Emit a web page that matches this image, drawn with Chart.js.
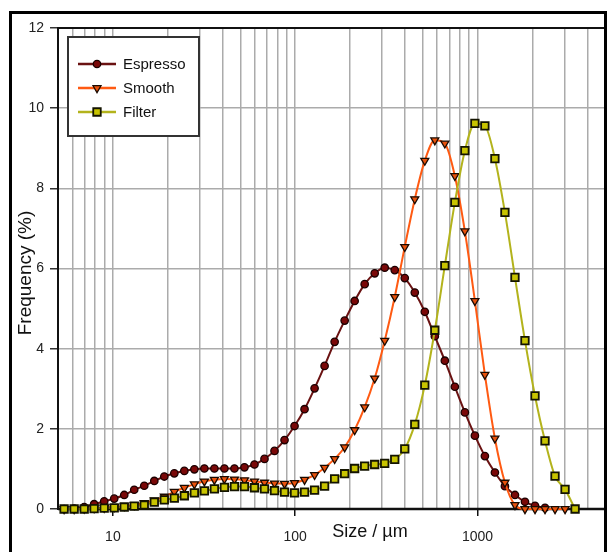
<!DOCTYPE html>
<html><head><meta charset="utf-8">
<script src="https://cdn.jsdelivr.net/npm/chart.js@4.4.1/dist/chart.umd.min.js"></script>
<style>html,body{margin:0;padding:0;background:#fff;} canvas{display:block;}</style>
</head><body>
<canvas id="c" width="608" height="552"></canvas>
<script>
// Particle size classes (µm), log-spaced
const sizes = [5.40, 6.13, 6.96, 7.89, 8.96, 10.17, 11.54, 13.09, 14.86, 16.87,
  19.14, 21.72, 24.65, 27.98, 31.75, 36.03, 40.89, 46.41, 52.67, 59.77,
  67.83, 76.98, 87.37, 99.15, 112.5, 127.7, 144.9, 164.5, 186.7, 211.8,
  240.4, 272.8, 309.6, 351.4, 398.8, 452.6, 513.6, 582.9, 661.5, 750.8,
  852.0, 967.0, 1097, 1245, 1413, 1604, 1820, 2066, 2344, 2660,
  3019, 3427];

const espresso = [0.00, 0.01, 0.05, 0.12, 0.19, 0.26, 0.35, 0.48, 0.58, 0.70,
  0.81, 0.89, 0.95, 0.99, 1.01, 1.01, 1.01, 1.01, 1.04, 1.11,
  1.25, 1.45, 1.72, 2.07, 2.49, 3.01, 3.57, 4.17, 4.70, 5.19,
  5.61, 5.88, 6.02, 5.96, 5.76, 5.40, 4.92, 4.31, 3.70, 3.05,
  2.41, 1.83, 1.32, 0.91, 0.57, 0.35, 0.18, 0.08, 0.03];

const smooth = [0.00, 0.00, 0.01, 0.02, 0.03, 0.05, 0.07, 0.10, 0.15, 0.22,
  0.31, 0.43, 0.53, 0.62, 0.69, 0.73, 0.75, 0.74, 0.72, 0.69,
  0.66, 0.64, 0.63, 0.65, 0.73, 0.85, 1.03, 1.25, 1.54, 1.97,
  2.54, 3.26, 4.20, 5.29, 6.54, 7.73, 8.69, 9.20, 9.12, 8.31,
  6.93, 5.19, 3.35, 1.76, 0.66, 0.10, 0.00, 0.00, 0.00, 0.00,
  0.00];

const filter = [0.00, 0.00, 0.00, 0.01, 0.02, 0.03, 0.05, 0.07, 0.10, 0.17,
  0.23, 0.27, 0.33, 0.40, 0.45, 0.50, 0.54, 0.56, 0.56, 0.53,
  0.50, 0.46, 0.42, 0.40, 0.42, 0.47, 0.57, 0.75, 0.88, 1.01,
  1.07, 1.11, 1.14, 1.24, 1.50, 2.11, 3.09, 4.46, 6.07, 7.65,
  8.94, 9.62, 9.56, 8.74, 7.40, 5.78, 4.20, 2.82, 1.70, 0.82,
  0.49, 0.00];

const seriesNames = ['Espresso', 'Smooth', 'Filter'];
const xGridTicks = [5,6,7,8,9,10,20,30,40,50,60,70,80,90,100,200,300,400,500,600,700,800,900,1000,2000,3000,4000,5000];
const xTickLabels = [10, 100, 1000];
const yMin = 0, yMax = 12, yStep = 2;
const xTitle = 'Size / µm';
const yTitle = 'Frequency (%)';

const FONT = "'Liberation Sans', Arial, Helvetica, sans-serif";
const GRID = '#ababab';

const styles = [
  {line:'#6a1212', fill:'#7a0808', border:'#1a0000', shape:'circle', r:3.7, bw:1.3, order:3},
  {line:'#ff5a12', fill:'#e8520c', border:'#1a0a00', shape:'triangle', r:4.6, bw:1.3, order:2},
  {line:'#b3b31c', fill:'#c8c400', border:'#141400', shape:'rect', r:5.3, bw:1.8, order:1}
];
const seriesValues = [espresso, smooth, filter];

function pts(vals){ return vals.map((v,i)=>({x:sizes[i], y:v})); }

const datasets = seriesValues.map((vals, k) => {
  const s = styles[k];
  return {
    label: seriesNames[k],
    data: pts(vals),
    borderColor: s.line,
    borderWidth: 2,
    backgroundColor: s.fill,
    pointStyle: s.shape,
    pointRotation: s.shape === 'triangle' ? 180 : 0,
    pointRadius: s.r,
    pointBackgroundColor: s.fill,
    pointBorderColor: s.border,
    pointBorderWidth: s.bw,
    cubicInterpolationMode: 'monotone',
    clip: false,
    order: s.order
  };
});

function drawMarker(ctx, shape, x, y, r, fill, stroke, bw){
  ctx.save();
  ctx.beginPath();
  if (shape === 'circle') {
    ctx.arc(x, y, r, 0, Math.PI*2);
  } else if (shape === 'triangle') {
    const h = r * Math.sin(Math.PI/3);
    ctx.moveTo(x, y + r);
    ctx.lineTo(x - h, y - r/2);
    ctx.lineTo(x + h, y - r/2);
    ctx.closePath();
  } else {
    const a = r * Math.SQRT1_2;
    ctx.rect(x - a, y - a, 2*a, 2*a);
  }
  ctx.fillStyle = fill; ctx.fill();
  ctx.lineWidth = bw; ctx.strokeStyle = stroke; ctx.stroke();
  ctx.restore();
}

const framePlugin = {
  id: 'frame',
  beforeDraw(chart){
    const ctx = chart.ctx;
    ctx.save();
    ctx.fillStyle = '#fff';
    ctx.fillRect(0, 0, chart.width, chart.height);
    ctx.restore();
  },
  beforeDatasetsDraw(chart){
    const ctx = chart.ctx, a = chart.chartArea;
    ctx.save();
    ctx.strokeStyle = '#111';
    ctx.lineWidth = 2;
    ctx.strokeRect(a.left, a.top, a.right - a.left, a.bottom - a.top);
    ctx.lineWidth = 2.5;
    ctx.beginPath(); ctx.moveTo(a.left, a.bottom); ctx.lineTo(a.right, a.bottom); ctx.stroke();
    ctx.restore();
  },
  afterDraw(chart){
    const ctx = chart.ctx;
    ctx.save();
    // outer figure frame
    ctx.strokeStyle = '#000';
    ctx.lineWidth = 3;
    ctx.strokeRect(10.5, 12.5, 595, 600);
    // axis titles
    ctx.fillStyle = '#111';
    ctx.font = '18px ' + FONT;
    ctx.textAlign = 'center';
    ctx.textBaseline = 'middle';
    ctx.fillText(xTitle, 370, 532);
    ctx.save();
    ctx.translate(26, 273);
    ctx.rotate(-Math.PI/2);
    ctx.font = '19px ' + FONT;
    ctx.fillText(yTitle, 0, 0);
    ctx.restore();
    // legend
    const bx = 68, by = 37, bw = 131, bh = 99;
    ctx.fillStyle = '#fff';
    ctx.fillRect(bx, by, bw, bh);
    ctx.strokeStyle = '#333';
    ctx.lineWidth = 2;
    ctx.strokeRect(bx, by, bw, bh);
    const rows = [64, 88, 112];
    seriesNames.forEach((name, k) => {
      const s = styles[k], y = rows[k];
      ctx.strokeStyle = s.line;
      ctx.lineWidth = 2.5;
      ctx.beginPath(); ctx.moveTo(78, y); ctx.lineTo(116, y); ctx.stroke();
      drawMarker(ctx, s.shape, 97, y, s.r, s.fill, s.border, s.bw);
      ctx.fillStyle = '#111';
      ctx.font = '15px ' + FONT;
      ctx.textAlign = 'left';
      ctx.textBaseline = 'middle';
      ctx.fillText(name, 123, y + 1);
    });
    ctx.restore();
  }
};

new Chart(document.getElementById('c'), {
  type: 'line',
  data: { datasets },
  plugins: [framePlugin],
  options: {
    responsive: false,
    devicePixelRatio: 1,
    animation: false,
    layout: { autoPadding: false, padding: { top: 28, right: 3, left: 0, bottom: 0 } },
    plugins: { legend: { display: false }, tooltip: { enabled: false }, title: { display: false } },
    scales: {
      x: {
        type: 'logarithmic',
        min: 5, max: 5000,
        afterBuildTicks: s => { s.ticks = xGridTicks.map(v => ({ value: v })); },
        afterFit: s => { s.height = 43; s.paddingLeft = 0; s.paddingRight = 0; },
        border: { display: false },
        grid: {
          color: GRID, lineWidth: 1.5, drawTicks: true, tickLength: 7, tickWidth: 1.5,
          tickColor: c => (c.tick && xTickLabels.includes(c.tick.value)) ? '#111' : 'rgba(0,0,0,0)'
        },
        ticks: {
          autoSkip: false, maxRotation: 0, minRotation: 0, padding: 13,
          color: '#222', font: { family: FONT, size: 14 },
          callback: v => xTickLabels.includes(v) ? String(v) : ''
        }
      },
      y: {
        min: yMin, max: yMax,
        afterFit: s => { s.width = 58; s.paddingTop = 0; s.paddingBottom = 0; },
        border: { display: false },
        grid: { color: GRID, lineWidth: 1.5, tickLength: 8, tickWidth: 1.5, tickColor: '#333' },
        ticks: { stepSize: yStep, padding: 6, color: '#222', font: { family: FONT, size: 14 } }
      }
    }
  }
});
</script>
</body></html>
